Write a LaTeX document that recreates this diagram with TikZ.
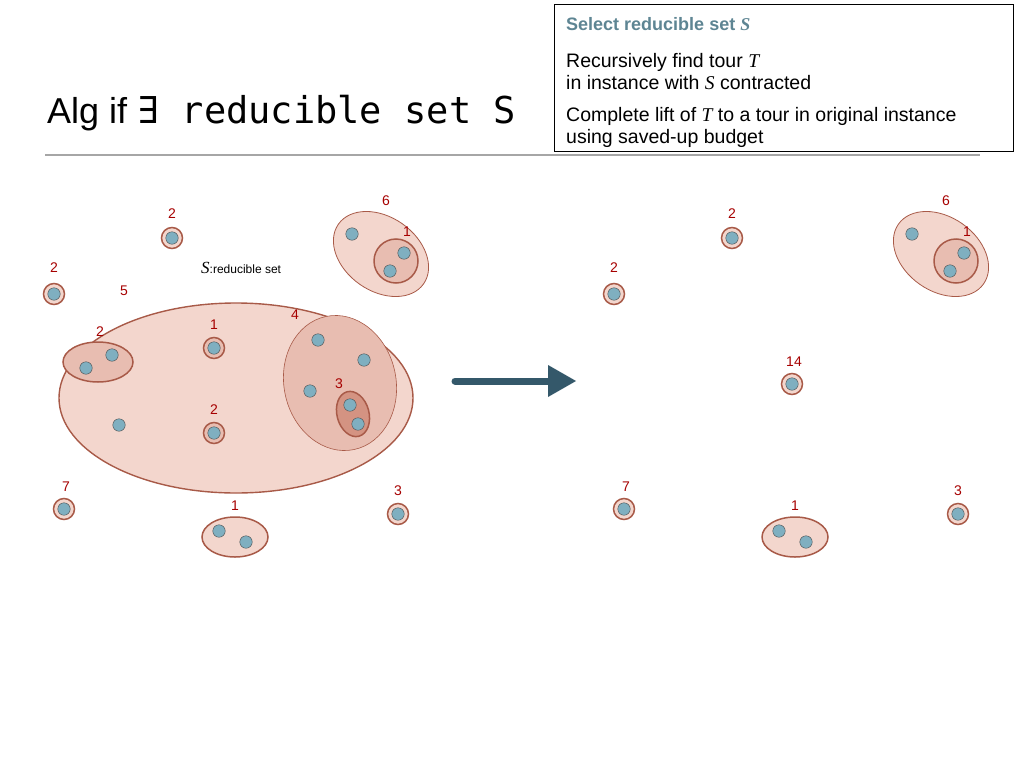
\documentclass[tikz,border=0pt]{standalone}
\usepackage{fontspec}
\setmainfont{Liberation Sans}
\newfontfamily\monof{DejaVu Sans Mono}
\newfontfamily\timesf{Liberation Serif}
\begin{document}
\begin{tikzpicture}[x=1pt,y=-1pt,
  dot/.style={circle,draw=gray!60!black,line width=0.4pt,fill=dotc,inner sep=0pt,minimum size=12.5pt},
  ring/.style={circle,draw=ringc,line width=1.5pt,fill=pinkA,inner sep=0pt,minimum size=21pt},
  lab/.style={text=red!65!black,font=\fontsize{14}{14}\selectfont},
  grp/.style={draw=ringc,line width=1pt,fill=pinkA},
  txt/.style={font=\fontsize{19.5}{22}\selectfont,align=left,anchor=north west,inner sep=0pt}]
\definecolor{ringc}{HTML}{A85A48}
\definecolor{pinkA}{HTML}{F3D6CD}
\definecolor{pinkB}{HTML}{E8BDB1}
\definecolor{pinkC}{HTML}{D49382}
\definecolor{arrc}{HTML}{34586A}
\definecolor{headc}{HTML}{5E8593}
\definecolor{dotc}{HTML}{7FAFC0}
\useasboundingbox (0,0) rectangle (1024,768);
% title & box
\node[anchor=base west,inner sep=0pt,font=\fontsize{36}{36}\selectfont] (title) at (47,123) {Alg if {\monof\fontsize{37}{37}\selectfont ∃ reducible set S}};
\draw[gray!70,line width=1.5pt] (45,155) -- (980,155);
\node[draw=black,line width=0.6pt,minimum width=459pt,minimum height=147pt,anchor=north west] (box) at (554,4) {};
\node[txt,text=headc,font=\bfseries\fontsize{18}{22}\selectfont] (b1) at (566,17) {Select reducible set {\timesf\itshape S}};
\node[txt] (b2) at (566,53) {Recursively find tour {\timesf\itshape T}\\in instance with {\timesf\itshape S} contracted};
\node[txt] (b3) at (566,107) {Complete lift of {\timesf\itshape T} to a tour in original instance\\using saved-up budget};
\foreach \dx/\p in {0/L,560/R}{
\begin{scope}[xshift=\dx]
\node[ring] (\p s2a) at (172,238) {}; \node[dot] at (\p s2a) {}; \node[lab] at (172,214) {2};
\node[ring] (\p s2b) at (54,294) {}; \node[dot] at (\p s2b) {}; \node[lab] at (54,268) {2};
\draw[grp,line width=0.8pt] (381,254) ellipse[x radius=52,y radius=37,rotate=-35];
\node[circle,draw=ringc,line width=1.5pt,fill=pinkB,minimum size=44pt,inner sep=0pt] (\p g1) at (396,261) {};
\node[dot] at (352,234) {}; \node[dot] at (404,253) {}; \node[dot] at (390,271) {};
\node[lab] at (386,201) {6}; \node[lab] at (407,232) {1};
\node[ring] (\p s7) at (64,509) {}; \node[dot] at (\p s7) {}; \node[lab] at (66,487) {7};
\draw[grp,line width=1.5pt] (235,537) ellipse[x radius=33,y radius=20];
\node[dot] at (219,531) {}; \node[dot] at (246,542) {}; \node[lab] at (235,506) {1};
\node[ring] (\p s3) at (398,514) {}; \node[dot] at (\p s3) {}; \node[lab] at (398,491) {3};
\end{scope}}
% big set
\draw[grp,line width=1.4pt] (236,398) ellipse[x radius=177,y radius=95];
\node[lab] at (124,291) {5};
\node[anchor=base west,inner sep=0pt,font=\fontsize{12}{12}\selectfont] (slab) at (201,273) {{\timesf\itshape\fontsize{17}{17}\selectfont S}:reducible set};
\draw[grp,line width=1.5pt,fill=pinkB] (98,362) ellipse[x radius=35,y radius=20];
\node[dot] at (86,368) {}; \node[dot] at (112,355) {}; \node[lab] at (100,332) {2};
\node[ring,fill=pinkB] (Ls1) at (214,348) {}; \node[dot] at (Ls1) {}; \node[lab] at (214,325) {1};
\node[ring,fill=pinkB] (Ls2) at (214,433) {}; \node[dot] at (Ls2) {}; \node[lab] at (214,410) {2};
\node[dot] at (119,425) {};
\draw[grp,line width=0.6pt,fill=pinkB] (340,383) ellipse[x radius=56,y radius=68,rotate=12];
\node[dot] at (318,340) {}; \node[dot] at (364,360) {}; \node[dot] at (310,391) {};
\node[lab] at (295,315) {4};
\draw[grp,line width=1.5pt,fill=pinkC] (353,414) ellipse[x radius=16,y radius=23,rotate=15];
\node[dot] at (350,405) {}; \node[dot] at (358,424) {}; \node[lab] at (339,384) {3};
% right contracted
\node[ring] (R14) at (792,384) {}; \node[dot] at (R14) {}; \node[lab] at (794,362) {14};
% arrow
\coordinate (a1) at (455,381); \coordinate (a2) at (550,381);
\draw[arrc,line width=7pt,line cap=round] (a1) -- (a2);
\fill[arrc] (548,365) -- (576,381) -- (548,397) -- cycle;
\end{tikzpicture}
\end{document}
